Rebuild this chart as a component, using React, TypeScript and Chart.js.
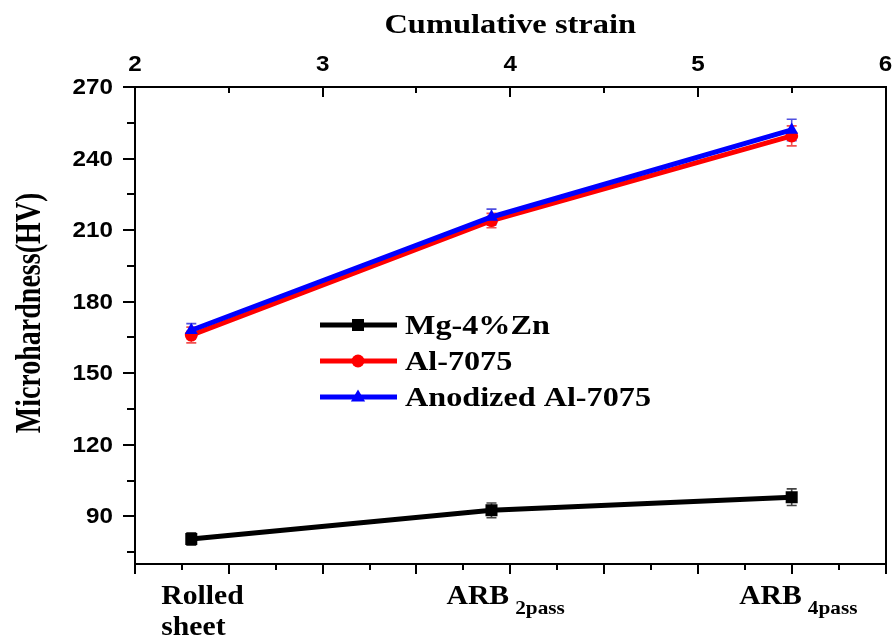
import React, { useEffect, useRef } from "react";
import { Chart, registerables } from "chart.js";

Chart.register(...registerables);

// ---------- data ----------
const strain = [2.3, 3.9, 5.5];
const categoryLines = [["Rolled", "sheet"], ["ARB"], ["ARB"]];
const categorySubs = ["", "2pass", "4pass"];
const categoryLabelStart = [2.14, 3.66, 5.22];

const seriesNames = ["Mg-4%Zn", "Al-7075", "Anodized Al-7075"];
const mgValues = [80.5, 92.5, 98];
const mgErrors = [2.6, 3.1, 3.5];
const alValues = [166, 214, 249.5];
const alErrors = [3.3, 3.0, 4.2];
const anodValues = [168, 215.5, 252];
const anodErrors = [2.8, 3.3, 4.5];

const yTicks = [90, 120, 150, 180, 210, 240, 270];
const yMinorTicks = [75, 105, 135, 165, 195, 225, 255];
const topTicks = [2, 3, 4, 5, 6];
const topMinorTicks = [2.5, 3.5, 4.5, 5.5];
const bottomTicks = [2, 2.5, 3, 3.5, 4, 4.5, 5, 5.5, 6];
const bottomMinorTicks = [2.25, 2.75, 3.25, 3.75, 4.25, 4.75, 5.25, 5.75];

const xTitle = "Cumulative strain";
const yTitle = "Microhardness(HV)";

// ---------- styles ----------
const SERIF = '"Liberation Serif", "Times New Roman", serif';
const SANS = '"Liberation Sans", Arial, sans-serif';
const lineColors = ["#000000", "#ff0000", "#0000ff"];
const errColors = ["#444444", "#f05050", "#5050e0"];
const pointStyles = ["rect", "circle", "triangle"];
const pointRadii = [8.5, 6.5, 7.5];

function stretchText(
  ctx: CanvasRenderingContext2D,
  text: string,
  x: number,
  y: number,
  font: string,
  align: "left" | "center" | "right",
  sx: number,
  baseline: CanvasTextBaseline = "alphabetic"
) {
  ctx.save();
  ctx.font = font;
  ctx.textAlign = "left";
  ctx.textBaseline = baseline;
  ctx.fillStyle = "#000";
  const w = ctx.measureText(text).width * sx;
  let left = x;
  if (align === "center") left = x - w / 2;
  else if (align === "right") left = x - w;
  ctx.translate(left, y);
  ctx.scale(sx, 1);
  ctx.fillText(text, 0, 0);
  ctx.restore();
  return w;
}

function drawMarker(ctx: CanvasRenderingContext2D, style: string, x: number, y: number, r: number, color: string) {
  ctx.save();
  ctx.fillStyle = color;
  ctx.beginPath();
  if (style === "rect") {
    const s = r * Math.SQRT1_2;
    ctx.rect(x - s, y - s, 2 * s, 2 * s);
  } else if (style === "circle") {
    ctx.arc(x, y, r, 0, Math.PI * 2);
  } else {
    ctx.moveTo(x, y - r);
    ctx.lineTo(x + r * 0.95, y + r * 0.6);
    ctx.lineTo(x - r * 0.95, y + r * 0.6);
    ctx.closePath();
  }
  ctx.fill();
  ctx.restore();
}

const errorValues = [mgErrors, alErrors, anodErrors];

const errorBarPlugin = {
  id: "errorBars",
  beforeDatasetsDraw(chart: any) {
    const ctx = chart.ctx as CanvasRenderingContext2D;
    const yScale = chart.scales.y;
    chart.data.datasets.forEach((ds: any, di: number) => {
      const meta = chart.getDatasetMeta(di);
      const errs = errorValues[di];
      ctx.save();
      ctx.strokeStyle = errColors[di];
      ctx.lineWidth = 1.6;
      meta.data.forEach((pt: any, i: number) => {
        const v = ds.data[i].y;
        const yt = yScale.getPixelForValue(v + errs[i]);
        const yb = yScale.getPixelForValue(v - errs[i]);
        const x = pt.x;
        ctx.beginPath();
        ctx.moveTo(x, yt);
        ctx.lineTo(x, yb);
        ctx.moveTo(x - 5, yt);
        ctx.lineTo(x + 5, yt);
        ctx.moveTo(x - 5, yb);
        ctx.lineTo(x + 5, yb);
        ctx.stroke();
      });
      ctx.restore();
    });
  },
};

const axesPlugin = {
  id: "axesDecor",
  afterDraw(chart: any) {
    const ctx = chart.ctx as CanvasRenderingContext2D;
    const { left, right, top, bottom } = chart.chartArea;
    const x = chart.scales.x;
    const xTop = chart.scales.xTop;
    const y = chart.scales.y;

    ctx.save();
    ctx.strokeStyle = "#000";
    ctx.lineWidth = 2;
    const seg = (x1: number, y1: number, x2: number, y2: number) => {
      ctx.beginPath();
      ctx.moveTo(x1, y1);
      ctx.lineTo(x2, y2);
      ctx.stroke();
    };
    yTicks.forEach((v) => {
      const p = Math.round(y.getPixelForValue(v));
      seg(left - 12, p, left, p);
    });
    yMinorTicks.forEach((v) => {
      const p = Math.round(y.getPixelForValue(v));
      seg(left - 8, p, left, p);
    });
    topTicks.forEach((v) => {
      const p = Math.round(xTop.getPixelForValue(v));
      seg(p, top, p, top + 10);
    });
    topMinorTicks.forEach((v) => {
      const p = Math.round(xTop.getPixelForValue(v));
      seg(p, top, p, top + 6);
    });
    bottomTicks.forEach((v) => {
      const p = Math.round(x.getPixelForValue(v));
      seg(p, bottom, p, bottom + 10);
    });
    bottomMinorTicks.forEach((v) => {
      const p = Math.round(x.getPixelForValue(v));
      seg(p, bottom, p, bottom + 6);
    });
    ctx.restore();

    // tick labels
    const tickFont = `bold 22px ${SANS}`;
    yTicks.forEach((v) => {
      stretchText(ctx, String(v), left - 22, y.getPixelForValue(v) + 1, tickFont, "right", 1.1, "middle");
    });
    topTicks.forEach((v) => {
      stretchText(ctx, String(v), xTop.getPixelForValue(v), 71, tickFont, "center", 1.1);
    });

    // titles
    stretchText(ctx, xTitle, (left + right) / 2, 33, `bold 28px ${SERIF}`, "center", 1.16);
    ctx.save();
    ctx.font = `bold 28px ${SERIF}`;
    ctx.fillStyle = "#000";
    ctx.textAlign = "center";
    ctx.textBaseline = "alphabetic";
    ctx.translate(40, 313);
    ctx.scale(1.25, 1);
    ctx.rotate(-Math.PI / 2);
    ctx.fillText(yTitle, 0, 0);
    ctx.restore();

    // bottom category labels
    const mainFont = `bold 27px ${SERIF}`;
    const subFont = `bold 19px ${SERIF}`;
    categoryLines.forEach((lines, i) => {
      const lx = x.getPixelForValue(categoryLabelStart[i]);
      lines.forEach((t, li) => {
        const w = stretchText(ctx, t, lx, 604 + li * 31, mainFont, "left", 1.1);
        if (li === 0 && categorySubs[i]) {
          stretchText(ctx, categorySubs[i], lx + w + 6, 614, subFont, "left", 1.12);
        }
      });
    });

    // legend
    const legendRows = [325, 361, 397];
    seriesNames.forEach((name, i) => {
      const cy = legendRows[i];
      ctx.save();
      ctx.strokeStyle = lineColors[i];
      ctx.lineWidth = 5;
      ctx.beginPath();
      ctx.moveTo(320, cy);
      ctx.lineTo(397, cy);
      ctx.stroke();
      ctx.restore();
      drawMarker(ctx, pointStyles[i], 358, cy, pointRadii[i], lineColors[i]);
      stretchText(ctx, name, 405, cy + 9, `bold 28px ${SERIF}`, "left", 1.15);
    });
  },
};

export default function App() {
  const canvasRef = useRef<HTMLCanvasElement | null>(null);

  useEffect(() => {
    if (!canvasRef.current) return;
    const seriesValues = [mgValues, alValues, anodValues];
    const orders = [2, 1, 0];
    const datasets = seriesNames.map((name, di) => ({
      label: name,
      data: strain.map((s, i) => ({ x: s, y: seriesValues[di][i] })),
      borderColor: lineColors[di],
      backgroundColor: lineColors[di],
      pointBackgroundColor: lineColors[di],
      pointBorderColor: lineColors[di],
      pointBorderWidth: 0,
      pointStyle: pointStyles[di],
      pointRadius: pointRadii[di],
      borderWidth: 5,
      tension: 0,
      fill: false,
      order: orders[di],
      xAxisID: "x",
      yAxisID: "y",
    }));

    const hiddenAxis = {
      ticks: { display: false },
      grid: { display: false, drawTicks: false },
      border: { display: true, color: "#000", width: 2 },
      title: { display: false },
    };

    const chart = new Chart(canvasRef.current, {
      type: "line",
      data: { datasets },
      options: {
        animation: false,
        responsive: true,
        maintainAspectRatio: false,
        devicePixelRatio: 1,
        layout: { padding: 0 },
        plugins: { legend: { display: false }, tooltip: { enabled: false } },
        scales: {
          x: {
            type: "linear",
            position: "bottom",
            min: 2,
            max: 6,
            ...hiddenAxis,
            afterFit: (s: any) => {
              s.height = 75;
            },
          },
          xTop: {
            type: "linear",
            position: "top",
            min: 2,
            max: 6,
            ...hiddenAxis,
            afterFit: (s: any) => {
              s.height = 87;
            },
          },
          y: {
            type: "linear",
            position: "left",
            min: 70,
            max: 270,
            ...hiddenAxis,
            afterFit: (s: any) => {
              s.width = 135;
            },
          },
          yRight: {
            type: "linear",
            position: "right",
            min: 70,
            max: 270,
            ...hiddenAxis,
            afterFit: (s: any) => {
              s.width = 4;
            },
          },
        },
      } as any,
      plugins: [errorBarPlugin, axesPlugin],
    });
    return () => chart.destroy();
  }, []);

  return (
    <div style={{ position: "fixed", left: 0, top: 0, width: 894, height: 639, background: "#fff" }}>
      <canvas ref={canvasRef} />
    </div>
  );
}
